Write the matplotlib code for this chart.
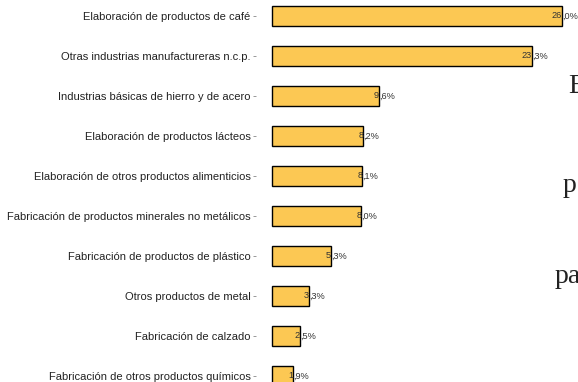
import numpy as np
import matplotlib.pyplot as plt

# datos: participación por industria (%)
categories = [
    "Elaboración de productos de café",
    "Otras industrias manufactureras n.c.p.",
    "Industrias básicas de hierro y de acero",
    "Elaboración de productos lácteos",
    "Elaboración de otros productos alimenticios",
    "Fabricación de productos minerales no metálicos",
    "Fabricación de productos de plástico",
    "Otros productos de metal",
    "Fabricación de calzado",
    "Fabricación de otros productos químicos",
]
values = [26.0, 23.3, 9.6, 8.2, 8.1, 8.0, 5.3, 3.3, 2.5, 1.9]
side_text = ["E", "p", "pa"]

W, H = 578, 382
fig = plt.figure(figsize=(W / 100, H / 100), dpi=100)
plt.rcParams['font.family'] = ['Liberation Sans', 'DejaVu Sans']

px = 11.15  # pixels per unit
left_px = 256
ax = fig.add_axes([left_px / W, 0, (W - left_px) / W, 1])

y = np.arange(len(values))
ax.barh(y, values, height=0.5, color="#FCC853", edgecolor="black", linewidth=1)
ax.set_xlim(-(272 - left_px) / px, (W - 272) / px)
ax.set_ylim(9.15, -0.4)

ax.set_yticks(y)
ax.set_yticklabels(categories, fontsize=8, color="#222222")
ax.tick_params(axis="y", length=2.5, width=0.6, color="#888888", pad=1.5)
ax.set_xticks([])
for s in ax.spines.values():
    s.set_visible(False)

# etiquetas: coma decimal sobre el borde de la barra
for yi, v in zip(y, values):
    ent, dec = f"{v:.1f}".split(".")
    ax.text(v, yi, ent, ha="right", va="center", fontsize=6.6, color="#333333")
    ax.text(v, yi, "," + dec + "%", ha="left", va="center", fontsize=6.6, color="#333333")

# texto lateral recortado
for (xp, yp), t in zip([(568, 93), (563, 192), (555, 283)], side_text):
    fig.text(xp / W, 1 - yp / H, t, fontsize=20, family="Liberation Serif",
             ha="left", va="baseline", color="#222222")

fig.savefig("out.png", dpi=100)
